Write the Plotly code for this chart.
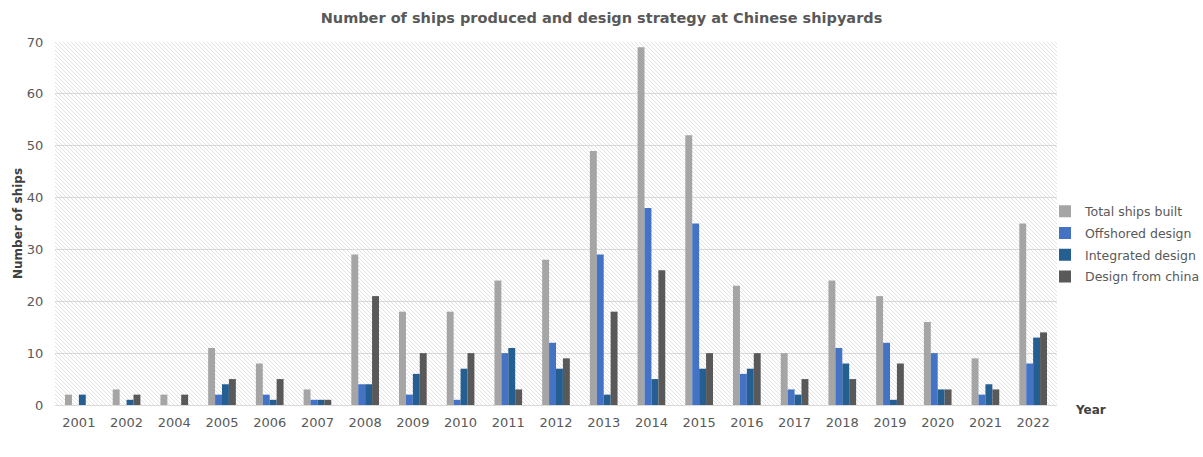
import base64
import plotly.graph_objects as go

years = ["2001", "2002", "2004", "2005", "2006", "2007", "2008", "2009", "2010", "2011", "2012",
         "2013", "2014", "2015", "2016", "2017", "2018", "2019", "2020", "2021", "2022"]
total_ships = [2, 3, 2, 11, 8, 3, 29, 18, 18, 24, 28, 49, 69, 52, 23, 10, 24, 21, 16, 9, 35]
offshored = [0, 0, 0, 2, 2, 1, 4, 2, 1, 10, 12, 29, 38, 35, 6, 3, 11, 12, 10, 2, 8]
integrated = [2, 1, 0, 4, 1, 1, 4, 6, 7, 11, 7, 2, 5, 7, 7, 2, 8, 1, 3, 4, 13]
from_china = [0, 2, 2, 5, 5, 1, 21, 10, 10, 3, 9, 18, 26, 10, 10, 5, 5, 8, 3, 3, 14]

series = [
    ("Total ships built", total_ships, "#a5a5a5"),
    ("Offshored design", offshored, "#4472c4"),
    ("Integrated design", integrated, "#255e91"),
    ("Design from china", from_china, "#595959"),
]

W, H = 1203, 457
ml, mr, mt, mb = 55, 146, 42, 52
pw, ph = W - ml - mr, H - mt - mb

svg = f'''<svg xmlns="http://www.w3.org/2000/svg" width="{pw}" height="{ph}">
<defs><pattern id="p" patternUnits="userSpaceOnUse" width="4" height="4">
<rect width="4" height="4" fill="#ffffff"/>
<path d="M-1,3 l2,2 M0,0 l4,4 M3,-1 l2,2" stroke="#e2e2e2" stroke-width="1"/>
</pattern></defs>
<rect width="{pw}" height="{ph}" fill="url(#p)"/>
</svg>'''
src = "data:image/svg+xml;base64," + base64.b64encode(svg.encode()).decode()

fig = go.Figure()
for name, vals, color in series:
    fig.add_trace(go.Bar(x=years, y=vals, name=name, legendgroup=name,
                         marker=dict(color=color, line=dict(width=0))))

font_family = "DejaVu Sans"
fig.update_layout(
    width=W, height=H,
    margin=dict(l=ml, r=mr, t=mt, b=mb, autoexpand=False),
    paper_bgcolor="white",
    plot_bgcolor="rgba(0,0,0,0)",
    barmode="group",
    bargap=0.42,
    bargroupgap=0,
    font=dict(family=font_family, size=12, color="#595959"),
    title=dict(text="<b>Number of ships produced and design strategy at Chinese shipyards</b>",
               x=0.5, xanchor="center", y=1 - 18 / H, yanchor="middle",
               font=dict(size=14.5, color="#595959", family=font_family)),
    legend=dict(x=1 - 12 / pw, xanchor="left", y=(405 - 244) / ph, yanchor="middle",
                font=dict(size=12.5, color="#595959", family=font_family),
                itemwidth=30, tracegroupgap=2.5, bgcolor="rgba(0,0,0,0)"),
    images=[dict(source=src, xref="x domain", yref="y domain", x=0, y=1,
                 sizex=1, sizey=1, xanchor="left", yanchor="top",
                 sizing="stretch", layer="below")],
    annotations=[dict(text="<b>Year</b>", xref="paper", yref="paper",
                      x=1 + 16 / pw, y=-5 / ph, xanchor="left", yanchor="middle",
                      showarrow=False, font=dict(size=12, color="#404040", family=font_family))],
)
fig.update_xaxes(type="category", showgrid=False, showline=True, linecolor="#d9d9d9",
                 automargin=False, ticks="outside", ticklen=5, tickcolor="rgba(0,0,0,0)",
                 tickfont=dict(size=13, color="#595959"))
fig.update_yaxes(range=[0, 70], dtick=10, showgrid=True, gridcolor="#d9d9d9", gridwidth=1,
                 automargin=False, zeroline=False, ticks="outside", ticklen=8,
                 tickcolor="rgba(0,0,0,0)", tickfont=dict(size=13, color="#595959"),
                 title=dict(text="<b>Number of ships</b>", font=dict(size=12, color="#404040"),
                            standoff=1))

fig.write_html("out.html", config={"displayModeBar": False},
               post_script="document.body.style.margin='0';")
